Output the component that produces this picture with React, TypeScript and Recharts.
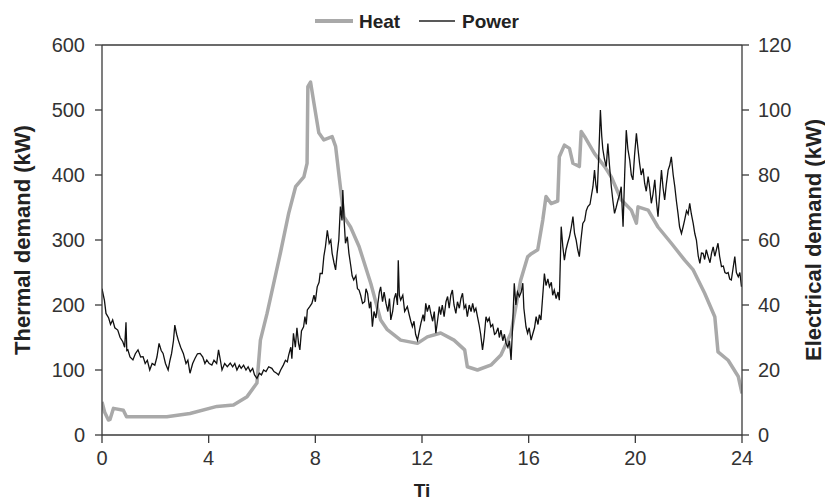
import { LineChart, Line, XAxis, YAxis, ReferenceLine, Legend } from 'recharts';

// time of day (h) and thermal demand (kW)
const heatTi = [
  0, 0.1, 0.24, 0.3, 0.43, 0.8, 0.92, 2.43, 3.3, 4.31, 4.93, 5.44, 5.81, 5.94, 6.19, 6.69, 7.0, 7.26, 7.57,
  7.69, 7.72, 7.82, 7.95, 8.13, 8.32, 8.63, 8.76, 9.07, 9.32, 9.64, 10.08, 10.45, 10.7, 11.2, 11.83, 12.2,
  12.7, 13.2, 13.6, 13.7, 14.08, 14.6, 14.96, 15.34, 15.7, 15.96, 16.1, 16.34, 16.53, 16.65, 16.84, 17.09,
  17.15, 17.34, 17.53, 17.66, 17.9, 17.97, 18.1, 18.47, 18.85, 19.1, 19.47, 19.85, 20.04, 20.1, 20.48, 20.85,
  21.35, 21.85, 22.17, 22.6, 22.98, 23.1, 23.48, 23.86, 24,
];
const heatKw = [
  51, 35, 23, 24, 41, 38, 28, 28, 33, 44, 46, 59, 80, 146, 187, 280, 341, 382, 397,
  418, 536, 543, 510, 465, 454, 459, 444, 336, 320, 290, 233, 177, 162, 146, 141, 151,
  157, 146, 131, 105, 100, 108, 123, 157, 238, 274, 279, 285, 331, 367, 356, 360,
  428, 446, 441, 418, 413, 467, 459, 433, 413, 397, 362, 346, 326, 351, 346, 320,
  295, 269, 254, 218, 182, 128, 115, 90, 64,
];

// time of day (h) and electrical demand (kW)
const powerTi = [
  0, 0.05, 0.09, 0.15, 0.25, 0.32, 0.4, 0.48, 0.59, 0.68, 0.78, 0.85, 0.9, 0.93, 0.97, 1.05, 1.16, 1.25, 1.35,
  1.45, 1.54, 1.62, 1.7, 1.79, 1.88, 1.98, 2.06, 2.14, 2.22, 2.29, 2.38, 2.48, 2.55, 2.61, 2.68, 2.73, 2.8,
  2.86, 2.95, 3.05, 3.15, 3.22, 3.3, 3.4, 3.49, 3.58, 3.68, 3.78, 3.86, 3.93, 4.02, 4.12, 4.2, 4.3, 4.37,
  4.44, 4.5, 4.6, 4.7, 4.81, 4.9, 4.98, 5.06, 5.15, 5.22, 5.31, 5.4, 5.48, 5.56, 5.65, 5.72, 5.81, 5.9,
  5.98, 6.06, 6.15, 6.25, 6.37, 6.45, 6.55, 6.62, 6.7, 6.8, 6.88, 6.95, 7.0, 7.08, 7.12, 7.18, 7.25, 7.31,
  7.37, 7.42, 7.48, 7.56, 7.61, 7.66, 7.7, 7.79, 7.87, 7.95, 8.0, 8.07, 8.14, 8.18, 8.26, 8.32, 8.38, 8.45,
  8.52, 8.58, 8.63, 8.7, 8.76, 8.82, 8.88, 8.94, 9.0, 9.03, 9.08, 9.13, 9.2, 9.26, 9.33, 9.38, 9.44, 9.52,
  9.58, 9.64, 9.7, 9.77, 9.85, 9.9, 9.96, 10.03, 10.08, 10.14, 10.2, 10.27, 10.33, 10.4, 10.45, 10.52, 10.58,
  10.65, 10.72, 10.78, 10.83, 10.9, 10.96, 11.02, 11.08, 11.11, 11.15, 11.2, 11.28, 11.35, 11.45, 11.52,
  11.58, 11.64, 11.7, 11.76, 11.83, 11.9, 11.96, 12.04, 12.09, 12.14, 12.2, 12.27, 12.33, 12.4, 12.46, 12.52,
  12.58, 12.65, 12.7, 12.76, 12.83, 12.9, 12.96, 13.02, 13.08, 13.14, 13.2, 13.27, 13.33, 13.4, 13.46, 13.52,
  13.58, 13.64, 13.7, 13.77, 13.84, 13.9, 13.96, 14.02, 14.08, 14.14, 14.2, 14.27, 14.33, 14.4, 14.46, 14.52,
  14.58, 14.65, 14.72, 14.77, 14.85, 14.9, 14.96, 15.03, 15.09, 15.15, 15.22, 15.28, 15.34, 15.38, 15.42,
  15.46, 15.52, 15.58, 15.65, 15.72, 15.78, 15.82, 15.9, 15.96, 16.02, 16.09, 16.15, 16.22, 16.28, 16.35,
  16.4, 16.46, 16.52, 16.59, 16.65, 16.72, 16.78, 16.85, 16.9, 16.96, 17.03, 17.1, 17.15, 17.22, 17.28,
  17.34, 17.4, 17.46, 17.53, 17.6, 17.66, 17.72, 17.78, 17.84, 17.9, 17.96, 18.03, 18.1, 18.16, 18.22, 18.3,
  18.36, 18.41, 18.47, 18.52, 18.57, 18.63, 18.69, 18.74, 18.78, 18.84, 18.91, 18.97, 19.03, 19.1, 19.16,
  19.22, 19.28, 19.35, 19.41, 19.47, 19.54, 19.6, 19.66, 19.72, 19.79, 19.85, 19.91, 19.97, 20.04, 20.1,
  20.16, 20.22, 20.29, 20.35, 20.41, 20.48, 20.54, 20.6, 20.66, 20.73, 20.79, 20.85, 20.92, 20.98, 21.04,
  21.1, 21.16, 21.23, 21.29, 21.35, 21.42, 21.48, 21.54, 21.6, 21.66, 21.73, 21.79, 21.85, 21.92, 21.98,
  22.04, 22.1, 22.17, 22.23, 22.29, 22.36, 22.42, 22.48, 22.54, 22.6, 22.66, 22.73, 22.8, 22.86, 22.92,
  22.98, 23.04, 23.1, 23.16, 23.23, 23.3, 23.36, 23.42, 23.48, 23.54, 23.6, 23.66, 23.73, 23.79, 23.86,
  23.92, 23.98,
];
const powerKw = [
  45, 43, 41.5, 37.4, 36, 34, 35.4, 33, 32.3, 30, 28.7, 27, 34.7, 26, 26.2, 24, 23.1, 25, 26.2,
  24, 24.1, 22, 23, 20, 22, 21.5, 24, 28.2, 26, 25.1, 22, 20, 23, 25.1, 29, 33.8, 31,
  29.2, 27, 25.1, 22, 23, 19, 22, 23.6, 25, 25.1, 24, 22, 23.1, 22, 21.5, 23, 22, 26.2,
  23, 20, 22, 21, 22.1, 21, 22, 20, 21.5, 20.5, 21.5, 20, 21, 19.5, 20.5, 18.5, 17.4, 19,
  18.5, 20, 19.5, 21, 20.5, 19.5, 19, 18.5, 20, 21.5, 23, 22.5, 24.6, 27, 23.5, 31.3, 27, 33,
  28.2, 26.2, 32, 33.3, 36.4, 34, 38.5, 39.5, 40.5, 43, 41, 45.6, 47, 49.7, 49.7, 55, 58, 63,
  59, 60, 55.9, 53, 50.8, 56, 60, 70.3, 66, 75.4, 66, 59, 61, 55.9, 52, 49, 47.7, 49,
  45, 44.6, 43, 40.5, 41, 45, 43.6, 39, 41, 33.3, 38, 36, 39.5, 44, 45.6, 41, 44,
  40.5, 38, 42, 35.4, 38, 42, 43.6, 40, 53.8, 43, 41.5, 43, 38, 39.5, 37,
  35, 33.3, 35, 31, 29.2, 32, 34.4, 37, 35, 40.5, 38, 40, 37.4, 35, 38, 31.3,
  35, 39.5, 37, 40, 36.4, 41, 42.6, 39, 43, 44.6, 40, 37.4, 41, 39, 42, 43.6,
  39, 40, 36.4, 40, 38, 40.5, 38, 39, 36.4, 34, 31, 26.2, 30, 36.4, 35, 36,
  33.3, 34, 31, 31.3, 33, 30, 32.3, 29, 31, 28.2, 27, 29, 23.1, 30, 38,
  46.7, 40, 44, 42.6, 44, 46.7, 39, 33.3, 31.3, 33, 29.2, 31, 33, 36.4, 34,
  37, 35.4, 42, 49.7, 46, 48, 45.6, 47, 43, 44.6, 42, 44, 41.5, 64.1, 58,
  53.8, 57, 59, 61, 64, 67.2, 62, 60, 57, 54.9, 60, 65.1, 66, 69, 70.3, 71,
  74, 76.4, 81.5, 77, 74.4, 86, 100, 92, 88, 85, 82.6, 89.7, 83, 76.4, 72,
  68.2, 70, 72.3, 74, 76.4, 64.1, 80, 93.8, 88, 84.6, 80, 78.5, 86, 92.8, 88,
  83.6, 80, 82, 77.4, 75, 79.5, 76, 71.3, 74, 78.5, 72, 67.2, 75, 81.5, 76,
  72.3, 77, 81.5, 83, 85.6, 80, 76.4, 72, 68.2, 64, 62, 64, 66.2, 69, 68,
  71.3, 68, 65.1, 62, 60, 55, 52.8, 56, 55.9, 54, 57, 54.9, 53, 56, 57.9,
  55, 57, 59, 55, 51.8, 52, 50, 49.7, 50, 48, 47.7, 51, 54.9, 50, 48.7,
  50, 45.6,
];

const xTicks = [0, 4, 8, 12, 16, 20, 24];
const thermalTicks = [0, 100, 200, 300, 400, 500, 600];
const electricTicks = [0, 20, 40, 60, 80, 100, 120];

const heatData = heatTi.map((ti, i) => ({ ti, heat: heatKw[i] }));
const powerData = powerTi.map((ti, i) => ({ ti, power: powerKw[i] }));

const HEAT = '#a9a9a9';
const AXIS = '#3a3a3a';
const FONT = "'Liberation Sans', Arial, sans-serif";
const tickStyle = { fill: '#333', fontSize: 20, fontFamily: FONT };

function AxisTitle({ viewBox, text, dx, side }: any) {
  const cy = viewBox.y + viewBox.height / 2;
  const x = side === 'left' ? dx : viewBox.x + dx;
  return (
    <text
      x={x}
      y={cy}
      transform={`rotate(-90 ${x} ${cy})`}
      textAnchor="middle"
      dominantBaseline="central"
      fontFamily={FONT}
      fontWeight="bold"
      fontSize={22}
      fill="#222"
    >
      {text}
    </text>
  );
}

function LegendBox() {
  return (
    <svg width={825} height={40}>
      <line x1={315} x2={353} y1={21} y2={21} stroke={HEAT} strokeWidth={4} />
      <text x={359} y={28} fontFamily={FONT} fontWeight="bold" fontSize={19} fill="#222">
        Heat
      </text>
      <line x1={419} x2={455} y1={21} y2={21} stroke="#222" strokeWidth={1.5} />
      <text x={462} y={28} fontFamily={FONT} fontWeight="bold" fontSize={19} fill="#222">
        Power
      </text>
    </svg>
  );
}

export default function App() {
  return (
    <div style={{ position: 'absolute', left: 0, top: 0, background: '#fff' }}>
      <LineChart width={825} height={500} margin={{ top: 45, right: 0, bottom: 0, left: 0 }}>
        <XAxis
          type="number"
          dataKey="ti"
          domain={[0, 24]}
          ticks={xTicks}
          height={65}
          stroke={AXIS}
          strokeWidth={1.3}
          tickSize={8}
          tickMargin={8}
          tick={tickStyle}
          allowDataOverflow
          label={{
            position: 'insideTop',
            content: ({ viewBox }: any) => (
              <text
                x={viewBox.x + viewBox.width / 2}
                y={viewBox.y + 55}
                textAnchor="middle"
                dominantBaseline="central"
                fontFamily={FONT}
                fontWeight="bold"
                fontSize={19}
                fill="#222"
              >
                Ti
              </text>
            ),
          }}
        />
        <YAxis
          yAxisId="left"
          domain={[0, 600]}
          ticks={thermalTicks}
          width={102}
          stroke={AXIS}
          strokeWidth={1.3}
          tickSize={7}
          tickMargin={10}
          tick={tickStyle}
          label={{ content: (p: any) => <AxisTitle viewBox={p.viewBox} text="Thermal demand (kW)" dx={22} side="left" /> }}
        />
        <YAxis
          yAxisId="right"
          orientation="right"
          domain={[0, 120]}
          ticks={electricTicks}
          width={83}
          stroke={AXIS}
          strokeWidth={1.3}
          tickSize={7}
          tickMargin={9}
          tick={tickStyle}
          label={{ content: (p: any) => <AxisTitle viewBox={p.viewBox} text="Electrical demand (kW)" dx={71} side="right" /> }}
        />
        <ReferenceLine yAxisId="left" y={600} stroke={AXIS} strokeWidth={1.3} />
        <Legend
          verticalAlign="middle"
          align="center"
          wrapperStyle={{ top: 0, left: 0, width: 825, height: 40 }}
          content={() => <LegendBox />}
        />
        <Line
          yAxisId="left"
          data={heatData}
          dataKey="heat"
          type="linear"
          stroke={HEAT}
          strokeWidth={3.5}
          strokeLinejoin="round"
          dot={false}
          isAnimationActive={false}
        />
        <Line
          yAxisId="right"
          data={powerData}
          dataKey="power"
          type="linear"
          stroke="#111"
          strokeWidth={1.3}
          dot={false}
          isAnimationActive={false}
        />
      </LineChart>
    </div>
  );
}
